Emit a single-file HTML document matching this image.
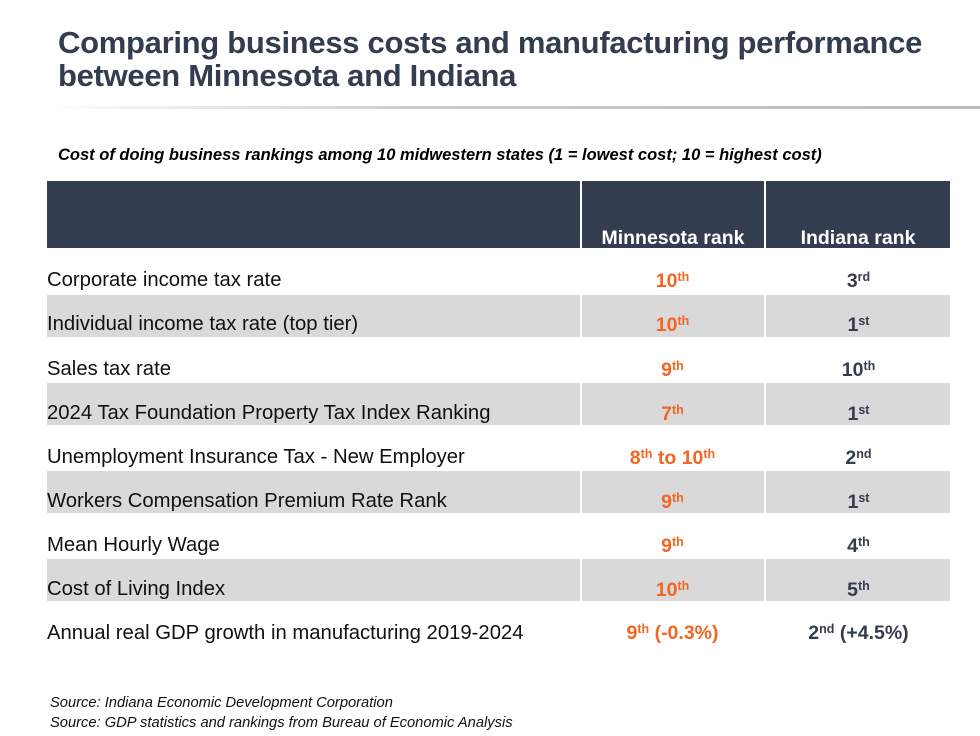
<!DOCTYPE html>
<html><head><meta charset="utf-8"><style>
body{margin:0;width:980px;height:736px;background:#fff;position:relative;overflow:hidden;font-family:"Liberation Sans",sans-serif}
.t{position:absolute;left:58px;top:26px;font-size:31px;font-weight:bold;color:#333d4f;line-height:33px;letter-spacing:-0.3px;white-space:nowrap}
.hr{position:absolute;left:40px;top:106px;width:940px;height:3px;background:linear-gradient(90deg,#fff,#ccc 40%,#bbb)}
.sub{position:absolute;left:58px;top:146px;font-size:16.5px;font-style:italic;font-weight:bold;color:#000;white-space:nowrap}
.hd{position:absolute;top:181px;height:67px;background:#333d4f;color:#fff;font-weight:bold;font-size:19.5px;text-align:center;line-height:22px;box-sizing:border-box;padding-top:46px;white-space:nowrap}
.row{position:absolute;left:47px;width:903px;height:42px}
.g{background:#d9d9d9}
.vl{position:absolute;top:0;width:2px;height:100%;background:#fff}
.c{position:absolute;font-size:20.3px;color:#111;line-height:22px;white-space:nowrap}
.m,.i{position:absolute;font-weight:bold;font-size:19.5px;text-align:center;line-height:22px;white-space:nowrap}
.m{left:580px;width:185px;color:#f26522}
.i{left:767px;width:183px;color:#333d4f}
sup{font-size:12.5px;vertical-align:6px;line-height:0}
.src{position:absolute;left:50px;font-size:14.7px;font-style:italic;color:#111;white-space:nowrap}
</style></head><body>
<div class="t">Comparing business costs and manufacturing performance<br>between Minnesota and Indiana</div>
<div class="hr"></div>
<div class="sub">Cost of doing business rankings among 10 midwestern states (1 = lowest cost; 10 = highest cost)</div>
<div class="hd" style="left:47px;width:533px"></div>
<div class="hd" style="left:582px;width:182px">Minnesota rank</div>
<div class="hd" style="left:766px;width:184px">Indiana rank</div>

<div class="row g" style="top:295px"><div class="vl" style="left:533px"></div><div class="vl" style="left:717px"></div></div>
<div class="row g" style="top:383px"><div class="vl" style="left:533px"></div><div class="vl" style="left:717px"></div></div>
<div class="row g" style="top:471px"><div class="vl" style="left:533px"></div><div class="vl" style="left:717px"></div></div>
<div class="row g" style="top:559px"><div class="vl" style="left:533px"></div><div class="vl" style="left:717px"></div></div>

<div class="c" style="left:47px;top:269px">Corporate income tax rate</div>
<div class="m" style="top:270px">10<sup>th</sup></div><div class="i" style="top:270px">3<sup>rd</sup></div>
<div class="c" style="left:47px;top:313px">Individual income tax rate (top tier)</div>
<div class="m" style="top:314px">10<sup>th</sup></div><div class="i" style="top:314px">1<sup>st</sup></div>
<div class="c" style="left:47px;top:358px">Sales tax rate</div>
<div class="m" style="top:359px">9<sup>th</sup></div><div class="i" style="top:359px">10<sup>th</sup></div>
<div class="c" style="left:47px;top:402px">2024 Tax Foundation Property Tax Index Ranking</div>
<div class="m" style="top:403px">7<sup>th</sup></div><div class="i" style="top:403px">1<sup>st</sup></div>
<div class="c" style="left:47px;top:446px">Unemployment Insurance Tax - New Employer</div>
<div class="m" style="top:447px">8<sup>th</sup> to 10<sup>th</sup></div><div class="i" style="top:447px">2<sup>nd</sup></div>
<div class="c" style="left:47px;top:490px">Workers Compensation Premium Rate Rank</div>
<div class="m" style="top:491px">9<sup>th</sup></div><div class="i" style="top:491px">1<sup>st</sup></div>
<div class="c" style="left:47px;top:534px">Mean Hourly Wage</div>
<div class="m" style="top:535px">9<sup>th</sup></div><div class="i" style="top:535px">4<sup>th</sup></div>
<div class="c" style="left:47px;top:578px">Cost of Living Index</div>
<div class="m" style="top:579px">10<sup>th</sup></div><div class="i" style="top:579px">5<sup>th</sup></div>
<div class="c" style="left:47px;top:622px">Annual real GDP growth in manufacturing 2019-2024</div>
<div class="m" style="top:622px">9<sup>th</sup> (-0.3%)</div><div class="i" style="top:622px">2<sup>nd</sup> (+4.5%)</div>

<div class="src" style="top:695px">Source: Indiana Economic Development Corporation</div>
<div class="src" style="top:715px">Source: GDP statistics and rankings from Bureau of Economic Analysis</div>
</body></html>
